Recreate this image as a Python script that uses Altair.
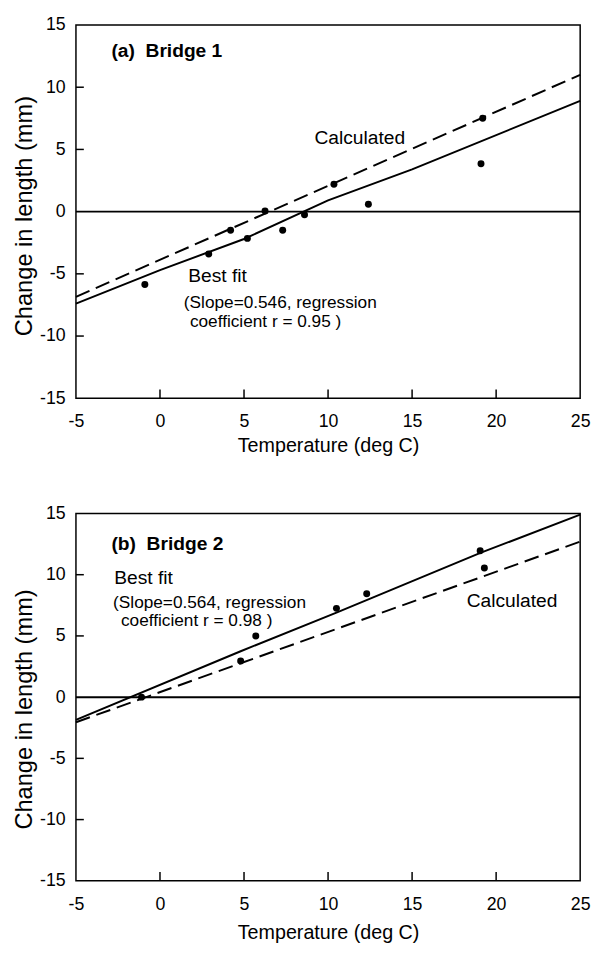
import altair as alt
import pandas as pd

# ---------------- data ----------------
# (a) Bridge 1
b1_temp = [-0.9, 2.9, 4.2, 5.2, 6.25, 7.3, 8.6, 10.35, 12.4, 19.1, 19.2]
b1_change = [-5.85, -3.4, -1.5, -2.15, 0.05, -1.5, -0.25, 2.2, 0.6, 3.85, 7.5]
b1_fit_temp = [-5, 0, 5, 10, 15, 25]
b1_fit_change = [-7.4, -4.7, -2.2, 0.9, 3.4, 8.9]
b1_calc_temp = [-5, 25]
b1_calc_change = [-6.85, 11.0]

# (b) Bridge 2
b2_temp = [-1.1, 4.8, 5.7, 10.5, 12.3, 19.05, 19.3]
b2_change = [0.0, 2.95, 5.0, 7.25, 8.45, 11.95, 10.55]
b2_fit_temp = [-5, 4.8, 10.5, 19.1, 25]
b2_fit_change = [-1.85, 3.75, 6.9, 11.8, 14.9]
b2_calc_temp = [-5, 25]
b2_calc_change = [-2.05, 12.7]

x_ticks = [-5, 0, 5, 10, 15, 20, 25]
y_ticks = [-15, -10, -5, 0, 5, 10, 15]
inner_x_ticks = [0, 5, 10, 15, 20]
inner_y_ticks = [-10, -5, 5, 10]

b1_titles = ["(a)\u00a0\u00a0Bridge 1"]
b1_labels = ["Calculated", "Best fit"]
b1_notes = ["(Slope=0.546, regression", "coefficient r = 0.95 )"]
b2_titles = ["(b)\u00a0\u00a0Bridge 2"]
b2_labels = ["Best fit", "Calculated"]
b2_notes = ["(Slope=0.564, regression", "coefficient r = 0.98 )"]

# annotation anchor positions (data coordinates, left-aligned)
b1_title_pos = [(-2.89, 12.94)]
b1_label_pos = [(9.19, 5.95), (1.68, -5.18)]
b1_note_pos = [(1.42, -7.37), (1.78, -8.88)]
b2_title_pos = [(-2.89, 12.54)]
b2_label_pos = [(-2.72, 9.76), (18.25, 7.85)]
b2_note_pos = [(-2.79, 7.72), (-2.32, 6.18)]

W = 512
FONT = "Liberation Sans"


def text_df(texts, pos):
    return pd.DataFrame({"txt": texts, "t": [p[0] for p in pos], "c": [p[1] for p in pos]})


def panel(H, ytitle_shift, xtitle_pad, temp, change, fit_t, fit_c, calc_t, calc_c,
          titles, tpos, labels, lpos, notes, npos):
    xs = alt.Scale(domain=[-5, 25], nice=False, zero=False)
    ys = alt.Scale(domain=[-15, 15], nice=False, zero=False)
    xax = alt.Axis(values=x_ticks, ticks=False, tickSize=0, domain=False, grid=False,
                   labelPadding=15, labelFontSize=18, labelFont=FONT, labelColor="black",
                   labelExpr="'' + datum.value",
                   title="Temperature (deg C)", titleFontSize=20, titleFont=FONT,
                   titleFontWeight="normal", titleColor="black", titlePadding=xtitle_pad,
                   labelFlush=False)
    yax = alt.Axis(values=y_ticks, ticks=False, tickSize=0, domain=False, grid=False,
                   labelPadding=11, labelFontSize=18, labelFont=FONT, labelColor="black",
                   labelExpr="'' + datum.value",
                   title="Change in length (mm)", titleFontSize=24, titleFont=FONT,
                   titleFontWeight="normal", titleColor="black", titlePadding=3,
                   titleY=H / 2 + ytitle_shift, titleAlign="center",
                   labelFlush=False)
    X = alt.X("t:Q", scale=xs, axis=xax, title="Temperature (deg C)")
    Y = alt.Y("c:Q", scale=ys, axis=yax, title="Change in length (mm)")

    pts = pd.DataFrame({"t": temp, "c": change})
    fit = pd.DataFrame({"t": fit_t, "c": fit_c})
    calc = pd.DataFrame({"t": calc_t, "c": calc_c})

    points = alt.Chart(pts).mark_circle(size=50, color="black", opacity=1).encode(x=X, y=Y)
    fit_line = alt.Chart(fit).mark_line(color="black", strokeWidth=2).encode(x=X, y=Y)
    calc_line = alt.Chart(calc).mark_line(color="black", strokeWidth=2, strokeDash=[15, 7]).encode(x=X, y=Y)
    zero = alt.Chart(pd.DataFrame({"c": [0]})).mark_rule(color="black", strokeWidth=2).encode(y=Y)
    xt = alt.Chart(pd.DataFrame({"t": inner_x_ticks})).mark_rule(color="black", strokeWidth=1.5).encode(
        x=X, y=alt.value(H), y2=alt.value(H - 9))
    yt = alt.Chart(pd.DataFrame({"c": inner_y_ticks})).mark_rule(color="black", strokeWidth=1.5).encode(
        y=Y, x=alt.value(0), x2=alt.value(8))

    def txt(texts, pos, size, weight):
        return alt.Chart(text_df(texts, pos)).mark_text(
            align="left", baseline="middle", font=FONT, fontSize=size,
            fontWeight=weight, color="black").encode(x=X, y=Y, text="txt:N")

    return alt.layer(
        points, zero, xt, yt, calc_line, fit_line,
        txt(titles, tpos, 19.5, "bold"),
        txt(labels, lpos, 19.5, "normal"),
        txt(notes, npos, 17.5, "normal"),
    ).properties(width=W, height=H)


top = panel(379, 4, 5, b1_temp, b1_change, b1_fit_temp, b1_fit_change, b1_calc_temp, b1_calc_change,
            b1_titles, b1_title_pos, b1_labels, b1_label_pos, b1_notes, b1_note_pos)
bottom = panel(373, 12, 10, b2_temp, b2_change, b2_fit_temp, b2_fit_change, b2_calc_temp, b2_calc_change,
               b2_titles, b2_title_pos, b2_labels, b2_label_pos, b2_notes, b2_note_pos)

chart = alt.vconcat(top, bottom, spacing=48).properties(
    padding={"left": 4, "top": 0, "right": 0, "bottom": 0},
    background="white",
).configure_view(stroke="black", strokeWidth=1.5)

chart.save("out.html", embed_options={"renderer": "svg", "actions": False})
